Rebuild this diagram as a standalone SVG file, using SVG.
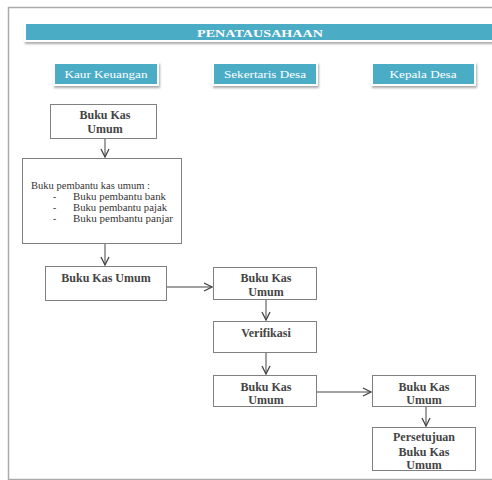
<svg xmlns="http://www.w3.org/2000/svg" width="492" height="480" viewBox="0 0 492 480">
<defs>
<marker id="arr" viewBox="0 0 10 10" refX="9" refY="5" markerWidth="10" markerHeight="10" markerUnits="userSpaceOnUse" orient="auto">
<path d="M1,1 L9,5 L1,9" fill="none" stroke="#444" stroke-width="1.3"/>
</marker>
<filter id="sh" x="-10%" y="-20%" width="120%" height="160%">
<feDropShadow dx="1" dy="2" stdDeviation="1.2" flood-color="#888" flood-opacity="0.7"/>
</filter>
</defs>
<style>
.box{fill:#fff;stroke:#808080;stroke-width:1}
.hdr{fill:#4BACC6;stroke:#fff;stroke-width:2;filter:url(#sh)}
.ht{font-family:"Liberation Serif",serif;font-size:11px;fill:#fff;text-anchor:middle}
.bt{font-family:"Liberation Serif",serif;font-size:12px;font-weight:bold;fill:#444;text-anchor:middle}
.lt{font-family:"Liberation Serif",serif;font-size:9.5px;fill:#333}
.con{fill:none;stroke:#444;stroke-width:1;marker-end:url(#arr)}
</style>
<rect width="492" height="480" fill="#fff"/>
<path d="M496,7.5 H8.5 V479.5 H496" fill="none" stroke="#aaa" stroke-width="1.5"/>
<g id="title">
<rect x="25" y="23" width="470" height="18" class="hdr"/>
<text x="260" y="36.5" class="ht" font-weight="bold" textLength="126" lengthAdjust="spacingAndGlyphs">PENATAUSAHAAN</text>
</g>
<g id="kaur">
<rect x="54" y="63" width="104" height="22" class="hdr"/>
<text x="106" y="78" class="ht" textLength="83" lengthAdjust="spacingAndGlyphs">Kaur Keuangan</text>
</g>
<g id="sekdes">
<rect x="213" y="63" width="104" height="22" class="hdr"/>
<text x="265" y="78" class="ht" textLength="82" lengthAdjust="spacingAndGlyphs">Sekertaris Desa</text>
</g>
<g id="kades">
<rect x="372" y="63" width="103" height="22" class="hdr"/>
<text x="423" y="78" class="ht" textLength="67" lengthAdjust="spacingAndGlyphs">Kepala Desa</text>
</g>
<g id="bku1">
<rect x="50.5" y="104.5" width="106" height="34" class="box"/>
<text x="105" y="119" class="bt">Buku Kas</text>
<text x="105" y="133" class="bt">Umum</text>
</g>
<g id="pembantu">
<rect x="22.5" y="158.5" width="159" height="85" class="box"/>
<text x="31" y="188.5" class="lt" textLength="119" lengthAdjust="spacingAndGlyphs">Buku pembantu kas umum :</text>
<text x="53" y="199.5" class="lt">-</text><text x="73" y="199.5" class="lt" textLength="93" lengthAdjust="spacingAndGlyphs">Buku pembantu bank</text>
<text x="53" y="210.5" class="lt">-</text><text x="73" y="210.5" class="lt" textLength="94" lengthAdjust="spacingAndGlyphs">Buku pembantu pajak</text>
<text x="53" y="221.5" class="lt">-</text><text x="73" y="221.5" class="lt" textLength="100" lengthAdjust="spacingAndGlyphs">Buku pembantu  panjar</text>
</g>
<g id="bku2">
<rect x="45.5" y="266.5" width="121" height="34" class="box"/>
<text x="106" y="282" class="bt">Buku Kas Umum</text>
</g>
<g id="bku3">
<rect x="213.5" y="267.5" width="103" height="32" class="box"/>
<text x="266" y="282" class="bt">Buku Kas</text>
<text x="266" y="296" class="bt">Umum</text>
</g>
<g id="verifikasi">
<rect x="213.5" y="321.5" width="103" height="31" class="box"/>
<text x="266" y="337" class="bt">Verifikasi</text>
</g>
<g id="bku4">
<rect x="213.5" y="375.5" width="103" height="31" class="box"/>
<text x="266" y="391" class="bt">Buku Kas</text>
<text x="266" y="404" class="bt">Umum</text>
</g>
<g id="bku5">
<rect x="372.5" y="375.5" width="103" height="31" class="box"/>
<text x="424" y="391" class="bt">Buku Kas</text>
<text x="424" y="404" class="bt">Umum</text>
</g>
<g id="persetujuan">
<rect x="372.5" y="427.5" width="103" height="43" class="box"/>
<text x="424" y="441" class="bt">Persetujuan</text>
<text x="424" y="456" class="bt">Buku Kas</text>
<text x="424" y="469" class="bt">Umum</text>
</g>
<g id="connectors">
<path d="M105,139 V157" class="con"/>
<path d="M105,244 V265" class="con"/>
<path d="M167,287 H212" class="con"/>
<path d="M266,300 V320" class="con"/>
<path d="M266,353 V374" class="con"/>
<path d="M317,392 H371" class="con"/>
<path d="M426,407 V426" class="con"/>
</g>
</svg>
